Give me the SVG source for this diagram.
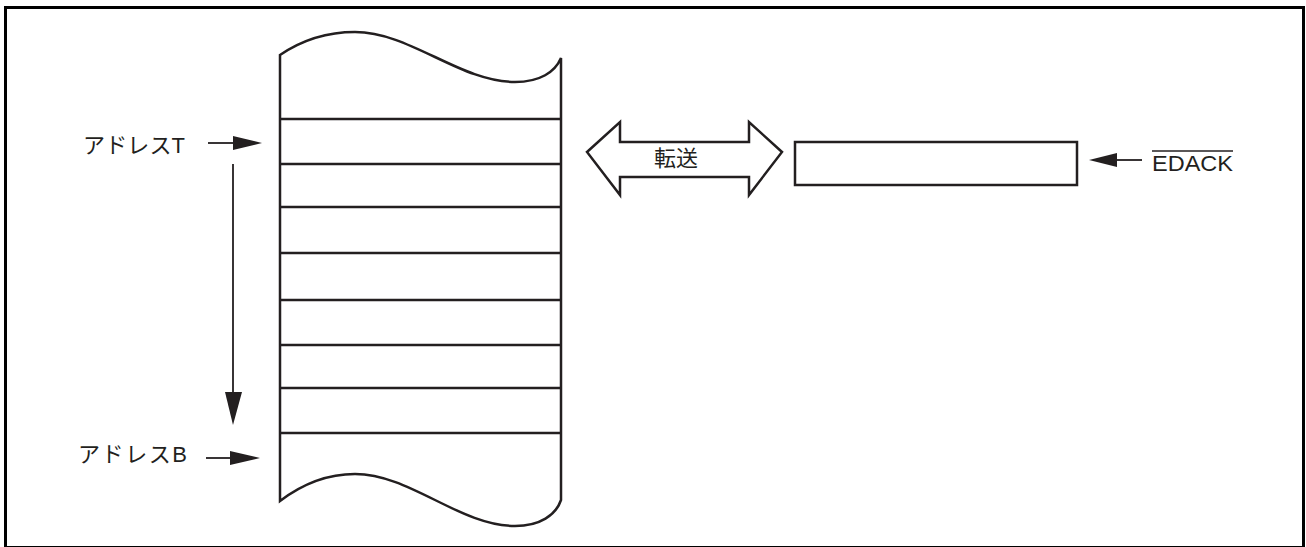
<svg xmlns="http://www.w3.org/2000/svg" width="1306" height="547" viewBox="0 0 1306 547">
<style>
.ln{stroke:#231f20;stroke-width:2.5;fill:none}
.th{stroke:#231f20;stroke-width:1.8;fill:none}
.hd{fill:#231f20;stroke:none}
.tx{font-family:"Liberation Sans","Noto Sans CJK JP",sans-serif;font-size:22px;fill:#231f20}
</style>
<rect x="0" y="0" width="1306" height="547" fill="#fff"/>
<rect x="5.5" y="7.5" width="1298" height="540" fill="none" stroke="#000" stroke-width="3"/>
<g id="memory">
<path class="ln" d="M280,55 C305,38 330,32 355,32 C410,32 460,82 515,82 C540,82 555,72 561,58 L561,500 C556,515 540,526 515,526 C460,526 410,474 355,474 C330,474 305,482 280,501 Z"/>
<path class="ln" d="M280,119H561M280,164H561M280,207H561M280,253H561M280,300H561M280,345H561M280,388H561M280,433H561"/>
</g>
<g id="addrT">
<text class="tx" x="83" y="153" textLength="102" lengthAdjust="spacing">アドレスT</text>
</g>
<g id="addrB">
<text class="tx" x="78" y="462" textLength="109" lengthAdjust="spacing">アドレスB</text>
</g>
<g id="transfer">
<path class="ln" stroke-width="2" d="M587,152 L620,122 L620,142 L749,142 L749,122 L782,152 L749,195 L749,177 L620,177 L620,195 Z"/>
<text class="tx" x="676" y="166" text-anchor="middle">転送</text>
</g>
<g id="buffer">
<rect class="ln" x="795" y="142" width="282" height="43"/>
</g>
<g id="edack">
<text class="tx" x="1152" y="171" textLength="81" lengthAdjust="spacingAndGlyphs">EDACK</text>
<line x1="1152" y1="151" x2="1233" y2="151" stroke="#231f20" stroke-width="1.3"/>
</g>
<g id="connectors">
<line class="th" x1="208" y1="143" x2="236" y2="143"/>
<polygon class="hd" points="233,136 262,143 233,150"/>
<line class="th" x1="206" y1="458" x2="232" y2="458"/>
<polygon class="hd" points="230,451 260,458 230,465"/>
<line class="th" x1="233" y1="164" x2="233" y2="395"/>
<polygon class="hd" points="225,392 242,392 233,425"/>
<line class="th" x1="1114" y1="160" x2="1142" y2="160"/>
<polygon class="hd" points="1117,153 1089,160 1117,167"/>
</g>
</svg>
